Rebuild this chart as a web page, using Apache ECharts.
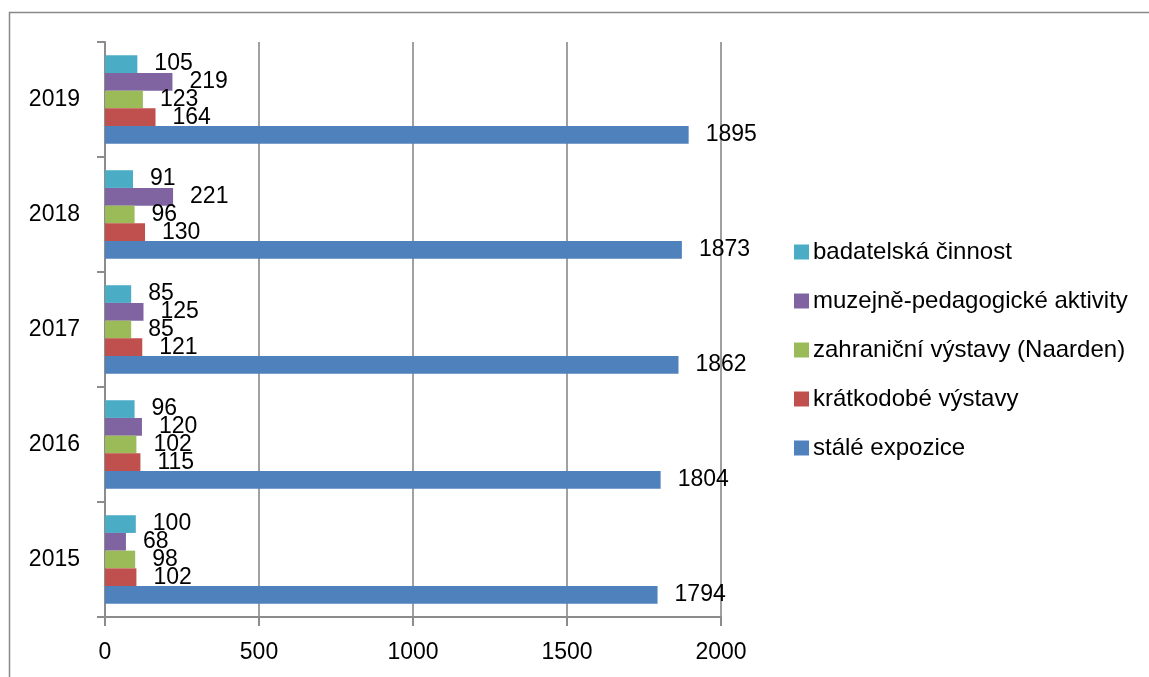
<!DOCTYPE html>
<html><head><meta charset="utf-8">
<script src="https://cdn.jsdelivr.net/npm/echarts@6/dist/echarts.min.js"></script>
<style>html,body{margin:0;padding:0;background:#fff;}#c{width:1149px;height:677px;}</style>
</head><body><div id="c"></div>
<script>
const categories = ['2015', '2016', '2017', '2018', '2019'];
const seriesNames = ['badatelská činnost', 'muzejně-pedagogické aktivity', 'zahraniční výstavy (Naarden)', 'krátkodobé výstavy', 'stálé expozice'];
const badatelskaCinnost = [100, 96, 85, 91, 105];
const muzejnePedagogicke = [68, 120, 125, 221, 219];
const zahranicniVystavy = [98, 102, 85, 96, 123];
const kratkodobeVystavy = [102, 115, 121, 130, 164];
const staleExpozice = [1794, 1804, 1862, 1873, 1895];
const xTicks = [0, 500, 1000, 1500, 2000];

const colors = ['#4BACC6', '#8064A2', '#9BBB59', '#C0504D', '#4F81BD'];
const values = [badatelskaCinnost, muzejnePedagogicke, zahranicniVystavy, kratkodobeVystavy, staleExpozice];
const font = 'Liberation Sans';
const chart = echarts.init(document.getElementById('c'), null, {renderer: 'canvas'});
chart.setOption({
  animation: false,
  textStyle: {fontFamily: font},
  graphic: [{type: 'rect', shape: {x: 9.5, y: 12.5, width: 1300, height: 800}, style: {fill: 'none', stroke: '#888', lineWidth: 1.5}, silent: true, z: -10}],
  grid: {left: 105, top: 42, right: 428, bottom: 60, containLabel: false},
  legend: {
    orient: 'vertical', left: 789, top: 235,
    itemWidth: 15, itemHeight: 15, itemGap: 25,
    icon: 'rect',
    data: seriesNames,
    textStyle: {fontFamily: font, fontSize: 24, color: '#000', padding: [0, 0, 0, -1]}
  },
  xAxis: {
    type: 'value', min: xTicks[0], max: xTicks[xTicks.length - 1], interval: 500,
    axisLine: {show: true, lineStyle: {color: '#8c8c8c', width: 2}},
    axisTick: {show: true, length: 9, lineStyle: {color: '#8c8c8c', width: 2}},
    splitLine: {show: true, lineStyle: {color: '#a0a0a0', width: 2}},
    axisLabel: {fontSize: 23, color: '#000', margin: 24, fontFamily: font, formatter: v => String(v)}
  },
  yAxis: {
    type: 'category', data: categories,
    axisLine: {show: true, lineStyle: {color: '#8c8c8c', width: 2}},
    axisTick: {show: true, length: 8, lineStyle: {color: '#8c8c8c', width: 2}},
    axisLabel: {fontSize: 23, color: '#000', margin: 25, fontFamily: font}
  },
  series: seriesNames.map((n, i) => ({
    name: n, type: 'bar', data: values[i],
    barGap: '0%', barCategoryGap: '23%',
    itemStyle: {color: colors[i]},
    label: {show: true, position: 'right', distance: 17, fontSize: 23, color: '#000', fontFamily: font}
  }))
});
</script></body></html>
